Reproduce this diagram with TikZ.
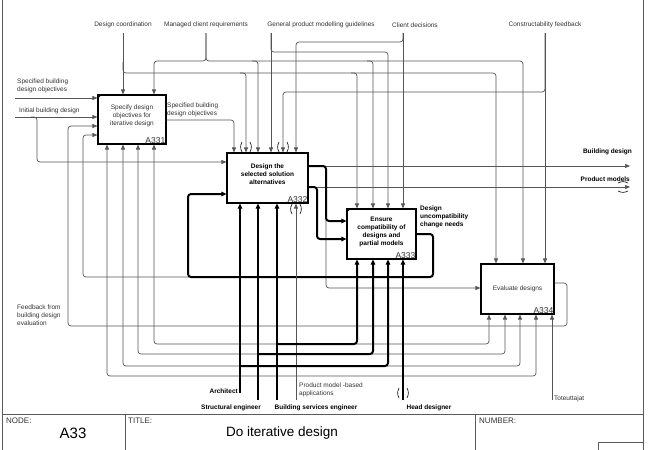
\documentclass[tikz,border=0pt]{standalone}
\usepackage{fontspec}
\setmainfont{Liberation Sans}
\usepackage{tikz}
\usetikzlibrary{arrows.meta, positioning, calc}
\usepackage{xcolor}
\definecolor{flowgray}{RGB}{85,85,85}
\definecolor{labelgray}{RGB}{50,50,50}
\definecolor{rimgray}{RGB}{90,90,90}

\begin{document}
\begin{tikzpicture}[x=1pt, y=-1pt,
  every node/.style={inner sep=0pt, font=\fontsize{6.5}{7.8}\selectfont, text=labelgray},
  actbox/.style={draw=black, line width=1.1pt},
  boxtext/.style={align=center, font=\fontsize{6.5}{8}\selectfont},
  boxnum/.style={anchor=south east, inner sep=1pt, font=\fontsize{8.5}{9}\selectfont},
  boldlbl/.style={font=\fontsize{6.5}{8}\selectfont\bfseries, text=black},
  ctl/.style={draw=flowgray, line width=0.7pt, rounded corners=3pt, -{Triangle[length=5pt,width=4pt]}},
  thk/.style={draw=black, line width=2pt, rounded corners=3pt, -{Triangle[length=5pt,width=4.5pt]}},
  rimline/.style={draw=rimgray, line width=0.8pt},
  tunnel/.pic={
    \draw[black, line width=0.6pt] (-4pt,5pt) arc[start angle=150, end angle=210, radius=10pt];
    \draw[black, line width=0.6pt] (4pt,5pt) arc[start angle=30, end angle=-30, radius=10pt];
  }
]
\useasboundingbox (0,0) rectangle (649,450);

% frame and title block
\draw[rimline] (2,0) -- (2,450);
\draw[rimline] (643,0) -- (643,450);
\draw[rimline] (2,414) -- (643,414);
\draw[rimline] (125,414) -- (125,450);
\draw[rimline] (475,414) -- (475,450);
\draw[rimline] (598,450) |- (643,442);
\node[anchor=west, font=\fontsize{8}{9}\selectfont] (hNode) at (6,421) {NODE:};
\node[font=\fontsize{15}{16}\selectfont, text=black] (hNodeId) at (73,433) {A33};
\node[anchor=west, font=\fontsize{8}{9}\selectfont] (hTitle) at (128,421) {TITLE:};
\node[font=\fontsize{13.5}{15}\selectfont, text=black] (hTitleTxt) at (282,433) {Do iterative design};
\node[anchor=west, font=\fontsize{8}{9}\selectfont] (hNumber) at (479,421) {NUMBER:};

% activities
\node[actbox, minimum width=68pt, minimum height=49pt] (a331) at (132,119.5) {};
\node[boxtext] (a331t) at ([yshift=4pt]a331.center) {Specify design\\objectives for\\iterative design};
\node[boxnum] (a331id) at (a331.south east) {A331};
\draw[line width=0.8pt] ([yshift=-4pt]a331.north west) -- ([xshift=4pt]a331.north west);

\node[actbox, minimum width=81pt, minimum height=50pt] (a332) at (267.5,178) {};
\node[boxtext, boldlbl] (a332t) at ([yshift=4pt]a332.center) {Design the\\selected solution\\alternatives};
\node[boxnum] (a332id) at (a332.south east) {A332};

\node[actbox, minimum width=69pt, minimum height=50pt] (a333) at (381.5,234) {};
\node[boxtext, boldlbl] (a333t) at ([yshift=2pt]a333.center) {Ensure\\compatibility of\\designs and\\partial models};
\node[boxnum] (a333id) at (a333.south east) {A333};
\draw[line width=0.8pt] ([yshift=-4pt]a333.north west) -- ([xshift=4pt]a333.north west);

\node[actbox, minimum width=73pt, minimum height=50pt] (a334) at (517.5,289) {};
\node[boxtext] (a334t) at (a334.center) {Evaluate designs};
\node[boxnum] (a334id) at (a334.south east) {A334};

% ports on the box sides
\foreach \i/\x in {1/123,2/154} {\coordinate (a331n\i) at (a331.north -| \x,0);}
\foreach \i/\y in {1/98,2/117,3/126,4/135} {\coordinate (a331w\i) at (a331.west |- 0,\y);}
\foreach \i/\x in {1/107,2/123,3/138,4/154} {\coordinate (a331s\i) at (a331.south -| \x,0);}
\coordinate (a331e1) at (a331.east |- 0,120);
\foreach \i/\x in {1/234,2/246,3/258,4/271,5/283,6/296} {\coordinate (a332n\i) at (a332.north -| \x,0);}
\foreach \i/\y in {1/162,2/194} {\coordinate (a332w\i) at (a332.west |- 0,\y);}
\foreach \i/\x in {1/240,2/258,3/277,4/296} {\coordinate (a332s\i) at (a332.south -| \x,0);}
\foreach \i/\y in {1/166,2/187} {\coordinate (a332e\i) at (a332.east |- 0,\y);}
\foreach \i/\x in {1/357,2/373,3/388,4/403} {
  \coordinate (a333n\i) at (a333.north -| \x,0);
  \coordinate (a333s\i) at (a333.south -| \x,0);
}
\foreach \i/\y in {1/221,2/239} {\coordinate (a333w\i) at (a333.west |- 0,\y);}
\coordinate (a333e1) at (a333.east |- 0,234);
\foreach \i/\x in {1/496,2/523,3/545} {\coordinate (a334n\i) at (a334.north -| \x,0);}
\coordinate (a334w1) at (a334.west |- 0,288);
\foreach \i/\x in {1/489,2/505,3/520,4/536,5/552} {\coordinate (a334s\i) at (a334.south -| \x,0);}
\coordinate (a334e1) at (a334.east |- 0,283);

% boundary ends
\coordinate (cDc) at (123,33);
\coordinate (cMcr) at (206,33);
\coordinate (cGpm) at (271,33);
\coordinate (cCd) at (403,33);
\coordinate (cCf) at (545,33);
\coordinate (cSbo) at (15,98);
\coordinate (cIbd) at (15,117);
\coordinate (cBd) at (630,166);
\coordinate (cPm) at (630,187);
\coordinate (cAr) at (240,393);
\coordinate (cSe) at (258,400);
\coordinate (cBse) at (277,400);
\coordinate (cPma) at (296,400);
\coordinate (cHd) at (403,400);
\coordinate (cTo) at (552,400);

% labels
\node (lDc) at (123,25) {Design coordination};
\node (lMcr) at (206,25) {Managed client requirements};
\node (lGpm) at (321,25) {General product modelling guidelines};
\node (lCd) at (415,25) {Client decisions};
\node (lCf) at (545,25) {Constructability feedback};
\node[anchor=west, align=left] (lSbo) at (17,86) {Specified building\\design objectives};
\node[anchor=west] (lIbd) at (19,111) {Initial building design};
\node[anchor=west, align=left] (lSbo2) at (167,110) {Specified building\\design objectives};
\node[anchor=east, boldlbl] (lBd) at (632,152) {Building design};
\node[anchor=east, boldlbl] (lPm) at (630,179) {Product models};
\node[anchor=west, align=left, boldlbl] (lDuc) at (420,217) {Design\\uncompatibility\\change needs};
\node[anchor=west, align=left] (lFb) at (17,315) {Feedback from\\building design\\evaluation};
\node[anchor=east, boldlbl] (lAr) at (238,391) {Architect};
\node[boldlbl] (lSe) at (231,408) {Structural engineer};
\node[boldlbl] (lBse) at (316,408) {Building services engineer};
\node[anchor=west, align=left] (lPma) at (299,390) {Product model -based\\applications};
\node[boldlbl] (lHd) at (429,408) {Head designer};
\node[anchor=west] (lTo) at (554,399) {Toteuttajat};

% controls
\draw[ctl] (cDc) -- (a331n1);
\draw[ctl] (123,62) |- (a334n1 |- 0,73) -- (a334n1);
\draw[ctl] (240,73) -| (a332n2);
\draw[ctl] (351,73) -| (a333n1);
\draw[ctl] (cMcr) |- (a331n2 |- 0,61) -- (a331n2);
\draw[ctl] (cMcr) |- (a334n2 |- 0,61) -- (a334n2);
\draw[ctl] (252,61) -| (a332n3);
\draw[ctl] (367,61) -| (a333n2);
\draw[ctl] (cGpm) -- (a332n4);
\draw[ctl] (cGpm) |- (a333n3 |- 0,52) -- (a333n3);
\draw[ctl] (cCd) -- (a333n4);
\draw[ctl] (cCd) |- (a332n6 |- 0,42) -- (a332n6);
\draw[ctl] (cCf) -- (a334n3);
\draw[ctl] (cCf) |- (a332n5 |- 0,92) -- (a332n5);
\draw[ctl] (a331e1) -| (a332n1);

% inputs
\draw[ctl] (cSbo) -- (a331w1);
\draw[ctl] (cIbd) -- (a331w2);
\draw[ctl] (31,117) -| (37,140) |- (a332w1);

% outputs
\draw[ctl] (a332e1) -- (cBd);
\draw[ctl] (a332e2) -- (cPm);
\draw[ctl] (320,166) -| (a334w1 -| 326,0) -- (a334w1);
\draw[thk] (a332e1) -| (a333w1 -| 326,0) -- (a333w1);
\draw[thk] (a332e2) -| (a333w2 -| 317,0) -- (a333w2);

% change needs and evaluation feedback
\draw[ctl] (195,277) -| (a331w4 -| 83,0) -- (a331w4);
\draw[thk] (a333e1) -| (433,277) -| (a332w2 -| 188,0) -- (a332w2);
\draw[ctl] (a334e1) -| (567,326) -| (a331w3 -| 68,0) -- (a331w3);

% mechanisms
\draw[ctl] (240,366) -| (a331s2);
\draw[ctl] (382,366) -| (a334s3);
\draw[ctl] (258,354) -| (a331s3);
\draw[ctl] (367,354) -| (a334s2);
\draw[ctl] (277,344) -| (a331s4);
\draw[ctl] (351,344) -| (a334s1);
\draw[ctl] (403,376) -| (a331s1);
\draw[ctl] (403,376) -| (a334s4);
\draw[ctl] (cPma) -- (a332s4);
\draw[ctl] (cTo) -- (a334s5);
\draw[thk] (cAr) -- (a332s1);
\draw[thk] (240,366) -| (a333s3);
\draw[thk] (cSe) -- (a332s2);
\draw[thk] (258,354) -| (a333s2);
\draw[thk] (cBse) -- (a332s3);
\draw[thk] (277,344) -| (a333s1);
\draw[thk] (cHd) -- (a333s4);

% tunnelled arrows
\pic at (246,147) {tunnel};
\pic at (283,147) {tunnel};
\pic at (296,209) {tunnel};
\pic at (403,393) {tunnel};
\pic[rotate=90] at (623,187) {tunnel};
\end{tikzpicture}
\end{document}
